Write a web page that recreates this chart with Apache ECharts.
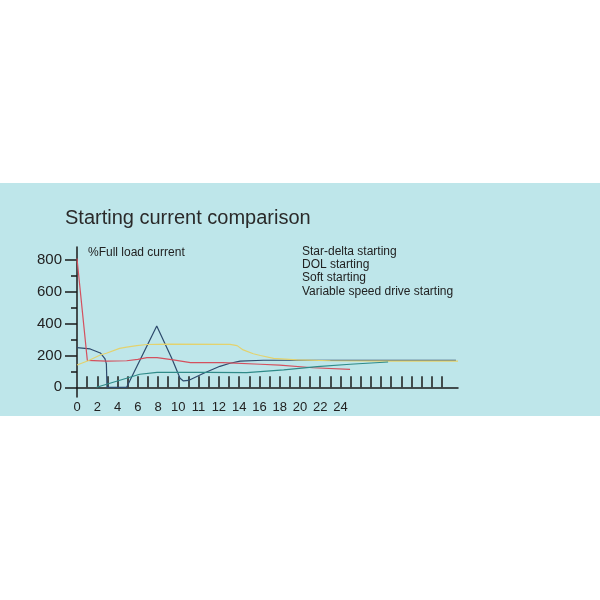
<!DOCTYPE html>
<html>
<head>
<meta charset="utf-8">
<title>Starting current comparison</title>
<script src="https://cdn.jsdelivr.net/npm/echarts@6/dist/echarts.min.js"></script>
<style>
  html, body { margin: 0; padding: 0; background: #fff; }
  #band { position: absolute; left: 0; top: 183px; width: 600px; height: 233px; background: #bee6ea; }
  #main { position: absolute; left: 0; top: 0; width: 600px; height: 600px; }
</style>
</head>
<body>
<div id="band"></div>
<div id="main"></div>
<script>
// x is measured in tick steps; the printed labels are not evenly spaced in value
const xTickLabels = ['0', '2', '4', '6', '8', '10', '11', '12', '14', '16', '18', '20', '22', '24'];
const yTickValues = [0, 200, 400, 600, 800];
const yMinorTicks = [100, 300, 500, 700];
const seriesNames = ['Star-delta starting', 'DOL starting', 'Soft starting', 'Variable speed drive starting'];

const starDelta = [[0, 250], [1.3, 241], [2.3, 216], [2.75, 181], [2.9, 147], [2.96, 0], [4.9, 0],
  [7.87, 386], [9.35, 182], [10.17, 57], [10.5, 40], [11, 43], [12.5, 88], [14.1, 132],
  [15.1, 151], [16.1, 165], [18.4, 170], [37.4, 170]];
const dol = [[0, 810], [1.02, 169], [2.9, 165], [4.9, 167], [6.0, 176], [6.9, 186], [7.9, 186],
  [9.5, 172], [11.2, 155], [14.4, 155], [18.1, 145], [20, 140], [23.3, 123], [26.95, 113]];
const soft = [[0, 140], [1.1, 167], [2.3, 203], [2.9, 214], [4.2, 245], [4.9, 252], [5.9, 262],
  [6.9, 269], [8.9, 272], [15.1, 270], [15.8, 262], [16.4, 235], [17.4, 211], [18.1, 200],
  [19.4, 182], [21.7, 172], [25, 167], [30.9, 164], [37.6, 164]];
const vsd = [[1.94, 0], [6.2, 82], [7.9, 94], [12.8, 94], [16.75, 92], [20.4, 109], [23.7, 130],
  [26.95, 145], [30.7, 159]];

const colors = ['#2d4a6c', '#d4505e', '#e3d26e', '#2f8a88'];
const font = "'Liberation Sans', Arial, sans-serif";

let xLabelPos = xTickLabels.map(function (t, i) { return i * 2; });
let xTicks = [];
for (let i = 1; i <= 36; i++) xTicks.push(i);

let chart = echarts.init(document.getElementById('main'), null, { renderer: 'canvas' });

function line(name, data, color) {
  return {
    name: name,
    type: 'line',
    data: data,
    showSymbol: false,
    symbol: 'none',
    lineStyle: { color: color, width: 1.2 },
    itemStyle: { color: color },
    emphasis: { disabled: true }
  };
}

let option = {
  animation: false,
  backgroundColor: 'transparent',
  title: {
    text: 'Starting current comparison',
    left: 65,
    top: 208,
    padding: 0,
    textStyle: { fontSize: 20, fontWeight: 'normal', color: '#2a2a2a', fontFamily: font }
  },
  legend: {
    data: seriesNames,
    orient: 'vertical',
    left: 297,
    top: 245.5,
    padding: 0,
    icon: 'none',
    itemWidth: 0,
    itemHeight: 10,
    itemGap: 1.3,
    selectedMode: false,
    textStyle: { fontSize: 12, color: '#222', fontFamily: font }
  },
  graphic: [{
    type: 'text',
    left: 88,
    top: 246.5,
    style: { text: '%Full load current', fontSize: 12, fill: '#222', fontFamily: font }
  }],
  grid: { left: 77, right: 142, top: 247, bottom: 203 },
  xAxis: {
    type: 'value',
    min: 0,
    max: 37.6,
    splitLine: { show: false },
    axisLine: { onZero: true, lineStyle: { color: '#1a1a1a', width: 1.5 } },
    axisTick: { inside: true, length: 11, customValues: xTicks, lineStyle: { color: '#1a1a1a', width: 1.5 } },
    axisLabel: {
      customValues: xLabelPos,
      margin: 4,
      fontSize: 13,
      color: '#222',
      fontFamily: font,
      formatter: function (v) { return xTickLabels[Math.round(v / 2)]; }
    }
  },
  yAxis: [{
    type: 'value',
    min: -61,
    max: 882,
    splitLine: { show: false },
    axisLine: { show: true, lineStyle: { color: '#1a1a1a', width: 1.5 } },
    axisTick: { show: true, length: 12, customValues: yTickValues, lineStyle: { color: '#1a1a1a', width: 1.5 } },
    axisLabel: { customValues: yTickValues, margin: 15, fontSize: 15, color: '#222', fontFamily: font }
  }, {
    type: 'value',
    min: -61,
    max: 882,
    position: 'left',
    splitLine: { show: false },
    axisLine: { show: false },
    axisTick: { show: true, length: 6, customValues: yMinorTicks, lineStyle: { color: '#1a1a1a', width: 1.5 } },
    axisLabel: { show: false }
  }],
  series: [
    line(seriesNames[0], starDelta, colors[0]),
    line(seriesNames[1], dol, colors[1]),
    line(seriesNames[2], soft, colors[2]),
    line(seriesNames[3], vsd, colors[3])
  ]
};

chart.setOption(option);
</script>
</body>
</html>
